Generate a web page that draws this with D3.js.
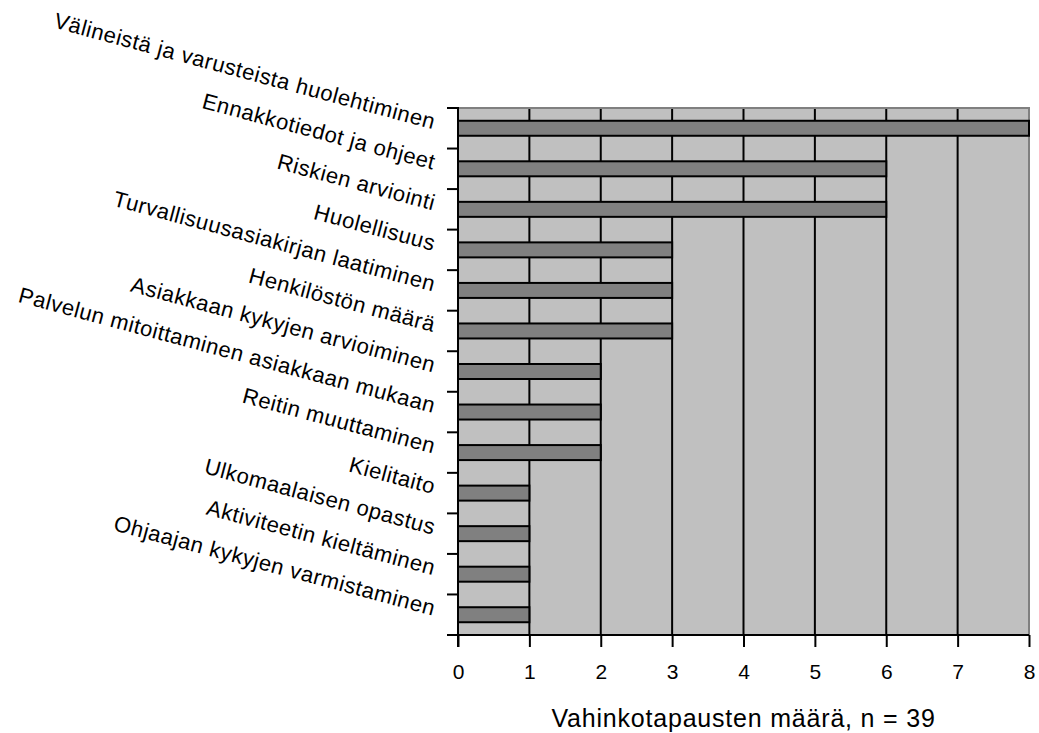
<!DOCTYPE html>
<html>
<head>
<meta charset="utf-8">
<script src="https://cdn.jsdelivr.net/npm/d3@7"></script>
<style>
  html, body { margin: 0; padding: 0; background: #fff; }
  svg { display: block; font-family: "Liberation Sans", Arial, sans-serif; }
</style>
</head>
<body>
<svg id="chart" width="1039" height="733"></svg>
<script>
// Categories (top to bottom) and their counts
const categories = [
  "Välineistä ja varusteista huolehtiminen",
  "Ennakkotiedot ja ohjeet",
  "Riskien arviointi",
  "Huolellisuus",
  "Turvallisuusasiakirjan laatiminen",
  "Henkilöstön määrä",
  "Asiakkaan kykyjen arvioiminen",
  "Palvelun mitoittaminen asiakkaan mukaan",
  "Reitin muuttaminen",
  "Kielitaito",
  "Ulkomaalaisen opastus",
  "Aktiviteetin kieltäminen",
  "Ohjaajan kykyjen varmistaminen"
];
const counts = [8, 6, 6, 3, 3, 3, 2, 2, 2, 1, 1, 1, 1];
const xTicks = [0, 1, 2, 3, 4, 5, 6, 7, 8];
const xTitle = "Vahinkotapausten määrä, n = 39";

const svg = d3.select("#chart");
const plotL = 458, plotR = 1029, plotT = 108, plotB = 635;

const x = d3.scaleLinear().domain([0, 8]).range([plotL, plotR]);
const y = d3.scaleBand().domain(categories).range([plotT, plotB]).paddingInner(0).paddingOuter(0);
const barH = 15;

// Plot background
svg.append("rect")
  .attr("x", plotL).attr("y", plotT)
  .attr("width", plotR - plotL).attr("height", plotB - plotT)
  .attr("fill", "#c0c0c0");

// Vertical gridlines
svg.append("g").selectAll("line")
  .data(xTicks.filter(d => d > 0 && d < 8))
  .join("line")
  .attr("x1", d => x(d)).attr("x2", d => x(d))
  .attr("y1", plotT).attr("y2", plotB)
  .attr("stroke", "#000").attr("stroke-width", 2);

// Top and right frame
svg.append("path")
  .attr("d", `M${plotL},${plotT}H${plotR}V${plotB}`)
  .attr("fill", "none").attr("stroke", "#808080").attr("stroke-width", 2);

// Bars
svg.append("g").selectAll("rect")
  .data(categories.map((c, i) => ({ c, v: counts[i] })))
  .join("rect")
  .attr("x", x(0))
  .attr("y", d => y(d.c) + y.bandwidth() / 2 - barH / 2)
  .attr("width", d => x(d.v) - x(0))
  .attr("height", barH)
  .attr("fill", "#808080")
  .attr("stroke", "#000")
  .attr("stroke-width", 2);

// Y axis: line and ticks at category boundaries
const bounds = categories.map(c => y(c)).concat([plotB]);
svg.append("line")
  .attr("x1", plotL).attr("x2", plotL).attr("y1", plotT - 1).attr("y2", plotB + 12)
  .attr("stroke", "#000").attr("stroke-width", 2);
svg.append("g").selectAll("line")
  .data(bounds)
  .join("line")
  .attr("x1", plotL - 11).attr("x2", plotL)
  .attr("y1", d => d).attr("y2", d => d)
  .attr("stroke", "#000").attr("stroke-width", 2);

// X axis
const xAxis = d3.axisBottom(x).tickValues(xTicks).tickSize(12).tickPadding(17).tickFormat(d3.format("d"));
const gx = svg.append("g").attr("transform", `translate(0,${plotB})`).call(xAxis)
  .attr("font-size", 21).attr("font-family", "Liberation Sans, Arial, sans-serif");
gx.select(".domain").attr("stroke", "#000").attr("stroke-width", 2).attr("d", `M${plotL - 11},0H${plotR}`);
gx.selectAll(".tick line").attr("stroke", "#000").attr("stroke-width", 2);
gx.selectAll(".tick text").attr("fill", "#000").style("font-size", "21px");

// Axis title
svg.append("text")
  .attr("x", (plotL + plotR) / 2).attr("y", 727)
  .attr("text-anchor", "middle")
  .attr("font-size", 25)
  .attr("letter-spacing", 0.8)
  .text(xTitle);

// Rotated category labels, right end of each baseline at its band centre
svg.append("g").selectAll("text")
  .data(categories)
  .join("text")
  .attr("transform", d => `translate(433,${y(d) + y.bandwidth() / 2 + 1}) rotate(15)`)
  .attr("text-anchor", "end")
  .attr("font-size", 22)
  .attr("letter-spacing", 0.5)
  .text(d => d);
</script>
</body>
</html>
